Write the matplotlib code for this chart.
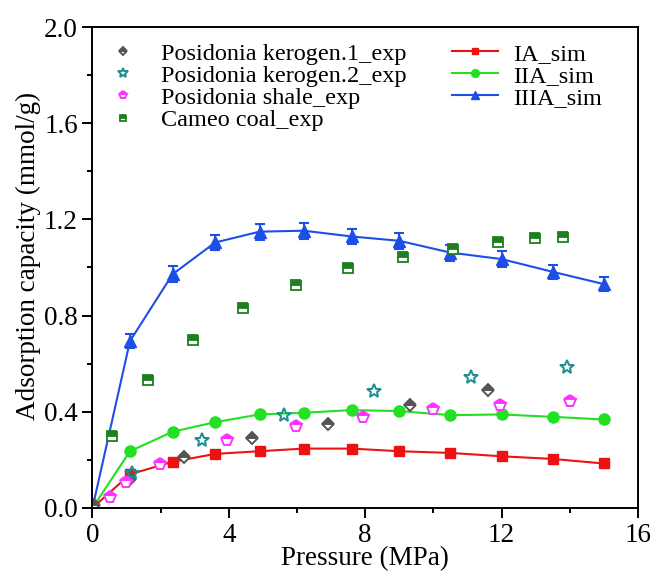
import matplotlib
matplotlib.use("Agg")
import matplotlib.pyplot as plt
from matplotlib.ticker import MultipleLocator, FormatStrFormatter

plt.rcParams['font.family'] = ['Liberation Serif', 'DejaVu Serif']

# --- simulation data (MPa, mmol/g) ---
p_sim = [0.0, 1.1, 2.35, 3.6, 4.9, 6.2, 7.6, 9.0, 10.5, 12.0, 13.5, 15.0]
ia_sim = [0.0, 0.14, 0.192, 0.225, 0.236, 0.247, 0.247, 0.236, 0.229, 0.215, 0.204, 0.185]
iia_sim = [0.0, 0.236, 0.317, 0.357, 0.389, 0.396, 0.407, 0.403, 0.386, 0.389, 0.379, 0.368]
iiia_sim = [0.0, 0.694, 0.972, 1.104, 1.149, 1.153, 1.129, 1.111, 1.062, 1.035, 0.982, 0.931]
iiia_err = [0.0, 0.03, 0.033, 0.033, 0.033, 0.033, 0.033, 0.033, 0.033, 0.033, 0.03, 0.03]

# --- experimental data ---
p_k1 = [0.05, 1.1, 2.68, 4.68, 6.9, 9.3, 11.6]
y_k1 = [0.012, 0.12, 0.211, 0.292, 0.351, 0.428, 0.49]

p_k2 = [1.17, 3.2, 5.63, 8.27, 11.09, 13.92]
y_k2 = [0.146, 0.282, 0.385, 0.486, 0.546, 0.588]

p_sh = [0.51, 0.99, 1.97, 3.95, 5.96, 7.94, 10.0, 11.95, 14.0]
y_sh = [0.046, 0.107, 0.183, 0.282, 0.34, 0.378, 0.41, 0.428, 0.444]

p_coal = [0.57, 1.64, 2.94, 4.41, 5.96, 7.49, 9.12, 10.57, 11.9, 12.99, 13.79]
y_coal = [0.299, 0.531, 0.697, 0.832, 0.926, 0.996, 1.044, 1.076, 1.107, 1.121, 1.125]

FS = 19.5     # ticks / axis labels
LFS = 17.5    # legend

fig = plt.figure(figsize=(6.54, 5.77), dpi=100)
ax = fig.add_axes([0.1414, 0.1196, 0.834, 0.8336])

# simulations
h_ia, = ax.plot(p_sim, ia_sim, color='#ee1111', marker='s', markersize=7, lw=1.5, label='IA_sim')
h_iia, = ax.plot(p_sim, iia_sim, color='#22e022', marker='o', markersize=8, lw=1.5, label='IIA_sim')
ax.errorbar(p_sim, iiia_sim, yerr=iiia_err, color='#1d4fe6', capsize=3.5, capthick=1.5,
            elinewidth=1.5, fmt='none')
h_iiia, = ax.plot(p_sim, iiia_sim, color='#1d4fe6', marker='^', markersize=9, lw=1.5, label='IIIA_sim')

# experiments
h_k1, = ax.plot(p_k1, y_k1, ls='none', marker='D', markersize=6.5, fillstyle='top',
                color='#555555', markerfacecoloralt='white', markeredgewidth=1.4,
                label='Posidonia kerogen.1_exp')
h_k2, = ax.plot(p_k2, y_k2, ls='none', marker='*', markersize=10, color='#1a8f8f',
                markerfacecolor='none', markeredgewidth=1.4, label='Posidonia kerogen.2_exp')
h_sh, = ax.plot(p_sh, y_sh, ls='none', marker='p', markersize=8.5, fillstyle='top',
                color='#ff33ff', markerfacecoloralt='white', markeredgewidth=1.4,
                label='Posidonia shale_exp')
h_coal, = ax.plot(p_coal, y_coal, ls='none', marker='s', markersize=7, fillstyle='top',
                  color='#1e7f1e', markerfacecoloralt='white', markeredgewidth=1.3,
                  label='Cameo coal_exp')

ax.set_xlim(0, 16)
ax.set_ylim(0, 2.0)
ax.xaxis.set_major_locator(MultipleLocator(4))
ax.xaxis.set_minor_locator(MultipleLocator(2))
ax.yaxis.set_major_locator(MultipleLocator(0.4))
ax.yaxis.set_minor_locator(MultipleLocator(0.2))
ax.yaxis.set_major_formatter(FormatStrFormatter('%.1f'))
ax.tick_params(which='both', direction='out', top=False, right=False, labelsize=FS, width=1.4)
ax.tick_params(which='major', length=7.5, pad=3)
ax.tick_params(which='minor', length=3.5)
for s in ax.spines.values():
    s.set_linewidth(1.4)

ax.set_xlabel('Pressure (MPa)', fontsize=FS, labelpad=-1)
ax.set_ylabel('Adsorption capacity (mmol/g)', fontsize=FS)
ax.yaxis.set_label_coords(-0.095, 0.525)

ax.legend(handles=[h_k1, h_k2, h_sh, h_coal, h_ia, h_iia, h_iiia], ncol=2, loc='upper left',
          bbox_to_anchor=(0.0, 0.982), frameon=False, fontsize=LFS, markerscale=0.7,
          handlelength=1.9, columnspacing=1.85, handletextpad=0.62,
          labelspacing=0.0, borderaxespad=0.0, borderpad=0.3)

fig.savefig('out.png', dpi=100)
